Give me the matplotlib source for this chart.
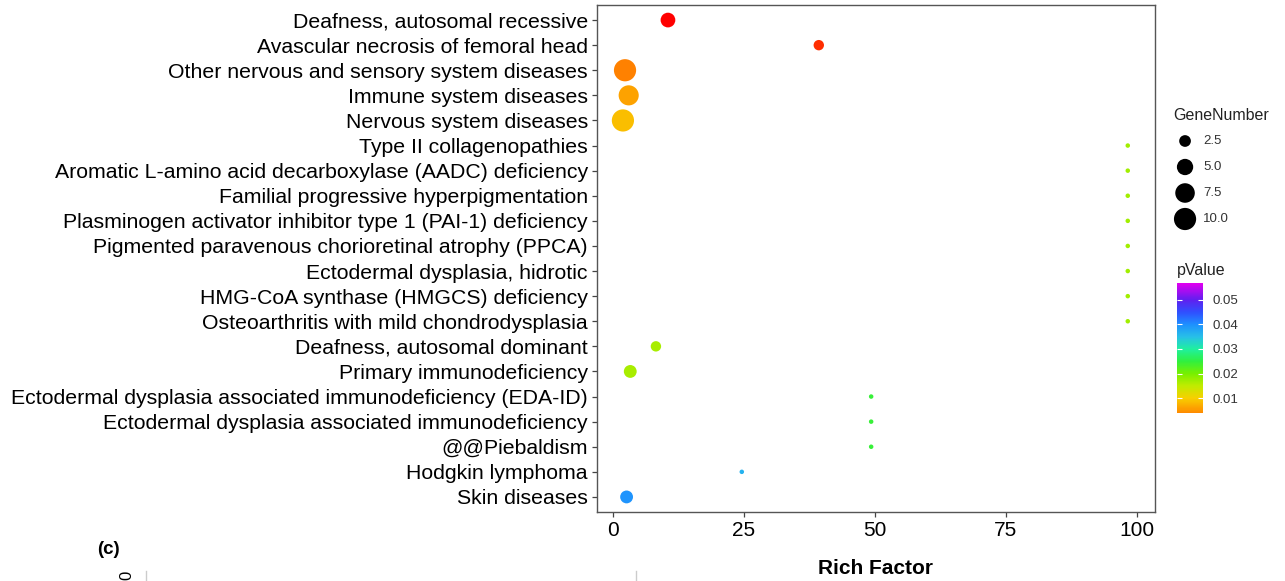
import numpy as np
import matplotlib
matplotlib.use("Agg")
import matplotlib.pyplot as plt
from matplotlib.colors import LinearSegmentedColormap, Normalize
from matplotlib.lines import Line2D

plt.rcParams['font.family'] = ['Liberation Sans', 'DejaVu Sans']

W, H, DPI = 1285, 581, 100

# enrichment terms, top to bottom
terms = [
    "Deafness, autosomal recessive",
    "Avascular necrosis of femoral head",
    "Other nervous and sensory system diseases",
    "Immune system diseases",
    "Nervous system diseases",
    "Type II collagenopathies",
    "Aromatic L-amino acid decarboxylase (AADC) deficiency",
    "Familial progressive hyperpigmentation",
    "Plasminogen activator inhibitor type 1 (PAI-1) deficiency",
    "Pigmented paravenous chorioretinal atrophy (PPCA)",
    "Ectodermal dysplasia, hidrotic",
    "HMG-CoA synthase (HMGCS) deficiency",
    "Osteoarthritis with mild chondrodysplasia",
    "Deafness, autosomal dominant",
    "Primary immunodeficiency",
    "Ectodermal dysplasia associated immunodeficiency (EDA-ID)",
    "Ectodermal dysplasia associated immunodeficiency",
    "@@Piebaldism",
    "Hodgkin lymphoma",
    "Skin diseases",
]
rich_factor = [10.5, 39.3, 2.3, 3.0, 1.9,
               98.3, 98.3, 98.3, 98.3, 98.3, 98.3, 98.3, 98.3,
               8.2, 3.3, 49.3, 49.3, 49.3, 24.6, 2.6]
gene_number = [4, 2, 10, 8, 10,
               1, 1, 1, 1, 1, 1, 1, 1,
               2, 3, 1, 1, 1, 1, 3]
p_value = [0.0001, 0.0015, 0.0038, 0.0060, 0.0085,
           0.0172, 0.0172, 0.0172, 0.0172, 0.0172, 0.0172, 0.0172, 0.0172,
           0.0168, 0.0168, 0.0245, 0.0245, 0.0245, 0.0365, 0.0395]

x_ticks = [0, 25, 50, 75, 100]
size_breaks = [2.5, 5.0, 7.5, 10.0]
p_ticks = [0.01, 0.02, 0.03, 0.04, 0.05]
p_lo, p_hi = 0.0041, 0.0567

# rainbow-like colour scale
cmap_p = [0.0, 0.0041, 0.01, 0.015, 0.02, 0.025, 0.03, 0.035, 0.04, 0.045, 0.05, 0.0567]
cmap_col = ['#FF0000', '#FF8C00', '#F8D000', '#C0EC00', '#78F000', '#30F040',
            '#20F0A0', '#28C0E8', '#1E90FF', '#3050FF', '#6020F0', '#E000F0']
cmap = LinearSegmentedColormap.from_list("pv", [(p / p_hi, c) for p, c in zip(cmap_p, cmap_col)])
norm = Normalize(vmin=0.0, vmax=p_hi)


def gene_size(g):
    # area-style size scale, diameter in px -> marker area in pt^2
    d_px = 4.5 + 5.9 * np.sqrt(np.asarray(g, dtype=float) - 1.0)
    return (d_px * 72.0 / DPI) ** 2


def px_rect(x0, y0, x1, y1):
    return [x0 / W, 1 - y1 / H, (x1 - x0) / W, (y1 - y0) / H]


fig = plt.figure(figsize=(W / DPI, H / DPI), dpi=DPI)
ax = fig.add_axes(px_rect(597, 5, 1155, 512))

y = np.arange(len(terms))
ax.scatter(rich_factor, y, s=gene_size(gene_number), c=p_value, cmap=cmap, norm=norm,
           edgecolors='none', zorder=3)
ax.set_ylim(len(terms) - 0.4, -0.6)
ax.set_xlim(-3.05, 103.5)
ax.set_yticks(y)
ax.set_yticklabels(terms, fontsize=15.3, color='black')
ax.set_xticks(x_ticks)
ax.set_xticklabels([str(v) for v in x_ticks], fontsize=15, color='black')
ax.tick_params(axis='both', length=3.5, width=0.9, color='#444444', pad=3)
for sp in ax.spines.values():
    sp.set_color('#555555')
    sp.set_linewidth(1.0)
ax.set_xlabel("Rich Factor", fontsize=15, fontweight='bold')
ax.xaxis.set_label_coords(0.5, (512 - 569) / 507.0)
ax.xaxis.label.set_va('center')

# size legend
lax = fig.add_axes(px_rect(1165, 128, 1285, 232))
lax.set_xlim(0, 1)
lax.set_ylim(len(size_breaks) - 0.5, -0.5)
lax.axis('off')
ly = np.arange(len(size_breaks))
lax.scatter([0.167] * len(size_breaks), ly, s=gene_size(size_breaks), color='black',
            edgecolors='none', clip_on=False)
for yy, v in zip(ly, size_breaks):
    lax.text(0.317, yy, f"{v:.1f}", fontsize=9.5, color='#333333', va='center', ha='left')
lax.text(0.067, -1.0, "GeneNumber", fontsize=11.5, color='#222222', va='center', ha='left')

# pValue colourbar
cax = fig.add_axes(px_rect(1177, 283, 1203, 413))
grad = np.linspace(p_lo, p_hi, 256)[:, None]
cax.imshow(grad, cmap=cmap, norm=norm, aspect='auto', origin='lower',
           extent=[0, 1, p_lo, p_hi])
cax.set_xlim(0, 1)
cax.set_ylim(p_lo, p_hi)
cax.hlines(p_ticks, 0, 0.2, color='white', lw=0.8)
cax.hlines(p_ticks, 0.8, 1, color='white', lw=0.8)
cax.set_xticks([])
cax.set_yticks(p_ticks)
cax.yaxis.tick_right()
cax.set_yticklabels([f"{v:.2f}" for v in p_ticks], fontsize=9.5, color='#333333')
cax.tick_params(axis='y', length=0, pad=7)
for sp in cax.spines.values():
    sp.set_visible(False)
fig.text(1177 / W, 1 - 271 / H, "pValue", fontsize=11.5, color='#222222', va='center', ha='left')

# fragment of the next panel at the bottom
fig.text(108 / W, 1 - 550 / H, "(c)", fontsize=13.5, fontweight='bold', ha='center', va='center')
fig.text(127 / W, 1 - 575 / H, "0", fontsize=12, rotation=90, ha='center', va='center')
for xp in (146, 636):
    fig.add_artist(Line2D([xp / W, xp / W], [0, 1 - 571 / H], color='#cccccc', lw=1.0))

fig.savefig("out.png", dpi=DPI)
